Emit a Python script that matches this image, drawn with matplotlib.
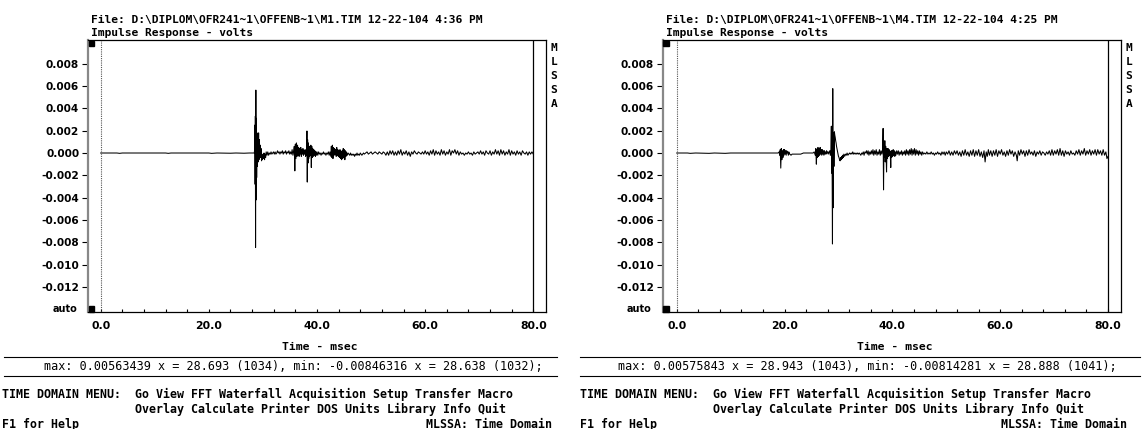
import numpy as np
import matplotlib.pyplot as plt
from matplotlib.patches import Rectangle
from matplotlib.lines import Line2D

W, H = 1143, 429

# traces: (time in msec, value in units of 1e-4 V)
m1_points = [
    (0.0, 0), (3.0, 0), (3.5, -0.3), (4.0, 0), (12.0, 0), (12.5, -0.3), (13.0, 0),
    (20.0, 0), (20.5, -0.3), (21.5, 0), (24.0, -0.2), (25.0, 0), (26.5, -0.2), (27.5, 0),
    (28.4, 0), (28.47, 3), (28.52, 25), (28.56, -28), (28.60, 33), (28.638, -84.6),
    (28.693, 56.3), (28.74, -42), (28.79, 31), (28.84, -22), (28.9, 18), (28.96, -12),
    (29.05, 14), (29.12, -8), (29.2, 18), (29.27, -6), (29.35, 12), (29.42, -3), (29.5, 7),
    (29.58, -4), (29.66, 4), (29.74, -7), (29.82, -1), (29.9, -6), (30.0, -2), (30.1, -5),
    (30.2, 0), (30.3, -6), (30.4, -1), (30.5, -4), (30.6, 1), (30.75, -2), (30.9, 1),
    (31.05, -2), (31.2, 0), (31.35, -1), (31.5, 1), (31.65, -1), (31.8, 0), (31.95, 1),
    (32.1, -1), (32.25, 1), (32.4, -1), (32.55, 0), (32.7, 2), (32.85, 0), (33.0, 1),
    (33.15, -1), (33.3, 1), (33.45, 0), (33.6, 2), (33.75, -1), (33.9, 1), (34.05, 0),
    (34.2, 2), (34.35, -1), (34.5, 1), (34.65, 0), (34.8, 2), (34.95, -1), (35.1, 1),
    (35.25, -1), (35.4, 3), (35.55, -2), (35.7, 2), (35.8, 6), (35.9, -16), (36.0, 8),
    (36.1, -5), (36.2, 9), (36.3, -3), (36.4, 7), (36.5, -2), (36.6, 5), (36.7, -3),
    (36.8, 4), (36.9, -1), (37.0, 5), (37.1, -3), (37.2, 3), (37.3, -1), (37.4, 4),
    (37.5, -2), (37.6, 2), (37.7, -1), (37.8, 3), (37.9, -3), (38.0, 2), (38.08, -2),
    (38.14, 19.7), (38.2, -26), (38.26, 12), (38.33, -9), (38.4, 9), (38.47, -5),
    (38.55, 6), (38.62, -3), (38.7, 5), (38.78, -2), (38.86, 7), (38.95, -13), (39.03, 6),
    (39.12, -4), (39.2, 4), (39.3, -3), (39.4, 3), (39.5, -2), (39.6, 2), (39.7, -3),
    (39.8, 1), (39.9, -2), (40.0, 1), (40.15, -2), (40.3, 1), (40.45, -1), (40.6, 0),
    (40.75, -2), (40.9, 0), (41.05, -1), (41.2, 1), (41.35, -1), (41.5, 0), (41.65, -2),
    (41.8, 0), (41.95, -1), (42.1, 1), (42.25, -2), (42.4, 1), (42.55, -3), (42.65, 6),
    (42.75, -4), (42.85, 7), (42.95, -5), (43.05, 5), (43.15, -2), (43.25, 4), (43.35, -1),
    (43.45, 3), (43.55, -3), (43.65, 5), (43.75, -2), (43.85, 3), (43.95, -3), (44.05, 2),
    (44.15, -4), (44.25, 3), (44.35, -5), (44.45, 1), (44.55, -6), (44.65, 2), (44.75, -5),
    (44.85, 4), (44.95, -4), (45.05, 3), (45.15, -6), (45.25, 2), (45.35, -3), (45.45, 1),
    (45.6, -2), (45.75, 0), (45.9, -1), (46.05, -2), (46.2, 0), (46.35, -2), (46.5, -1),
    (46.65, -2), (46.8, -1), (46.95, -3), (47.1, -1), (47.25, -2), (47.4, 0), (47.55, -2),
    (47.7, -1), (47.85, -2), (48.0, 0), (48.15, -1), (48.3, -2), (48.45, -1), (48.6, 0),
    (48.75, -1), (49.0, 0), (49.25, 1), (49.5, -1), (49.75, 0), (50.0, 1), (50.25, -1),
    (50.5, 0), (50.75, 1), (51.0, 0), (51.25, -1), (51.5, 1), (51.75, 0), (52.0, -1),
    (52.25, 1), (52.5, 0), (52.75, -2), (53.0, 1), (53.25, -2), (53.5, 2), (53.75, -1),
    (54.0, 2), (54.25, -2), (54.5, 1), (54.75, -2), (55.0, 2), (55.25, -1), (55.5, 3),
    (55.75, -2), (56.0, 1), (56.25, -1), (56.5, 2), (56.75, -2), (57.0, 1), (57.25, -3),
    (57.5, 1), (57.75, -1), (58.0, 2), (58.25, 0), (58.5, -1), (58.75, 1), (59.0, 0),
    (59.25, -1), (59.5, 1), (59.75, -1), (60.0, 2), (60.25, -1), (60.5, 1), (60.75, -2),
    (61.0, 2), (61.25, -1), (61.5, 3), (61.75, -2), (62.0, 2), (62.25, -1), (62.5, 1),
    (62.75, -2), (63.0, 3), (63.25, -1), (63.5, 2), (63.75, -2), (64.0, 1), (64.25, -1),
    (64.5, 3), (64.75, -2), (65.0, 2), (65.25, 0), (65.5, 3), (65.75, -1), (66.0, 2),
    (66.25, -2), (66.5, 1), (66.75, -1), (67.0, 0), (67.25, -2), (67.5, 0), (67.75, -1),
    (68.0, 1), (68.25, -1), (68.5, 0), (68.75, -2), (69.0, 1), (69.25, -1), (69.5, 0),
    (69.75, 1), (70.0, -1), (70.25, 2), (70.5, -1), (70.75, 1), (71.0, -2), (71.25, 2),
    (71.5, 0), (71.75, -1), (72.0, 2), (72.25, -2), (72.5, 1), (72.75, -1), (73.0, 3),
    (73.25, -1), (73.5, 2), (73.75, -2), (74.0, 3), (74.25, -1), (74.5, 2), (74.75, -2),
    (75.0, 1), (75.25, -1), (75.5, 3), (75.75, -2), (76.0, 2), (76.25, -1), (76.5, 1),
    (76.75, -2), (77.0, 2), (77.25, -1), (77.5, 1), (77.75, -2), (78.0, 2), (78.25, 0),
    (78.5, -1), (78.75, 1), (79.0, -2), (79.25, 1), (79.5, -1), (79.75, 1), (80.0, -1),
]

m4_points = [
    (0.0, 0), (2.0, 0), (2.5, -0.3), (3.5, 0), (6.0, -0.3), (7.0, 0), (9.0, -0.3), (10.0, 0),
    (14.0, 0), (18.8, 0), (19.0, 1), (19.1, -2), (19.2, 3), (19.3, -13.5), (19.4, 4),
    (19.5, -6), (19.6, 2), (19.7, -4), (19.8, 3), (19.9, -2), (20.0, 3), (20.1, -1),
    (20.2, 2), (20.3, -2), (20.4, 2), (20.5, 0), (20.6, 1), (20.7, -2), (20.8, 1), (20.9, -1),
    (21.0, -1), (21.2, -2), (21.4, -1), (21.6, -1), (22.0, -1), (22.5, -1), (23.0, -1),
    (23.5, 0), (24.5, 0), (25.3, 0), (25.5, 1), (25.7, -2), (25.8, 4), (25.9, -10),
    (26.0, 3), (26.1, -4), (26.2, 5), (26.3, -3), (26.4, 4), (26.5, -2), (26.6, 5),
    (26.7, -1), (26.8, 3), (26.9, -2), (27.0, 3), (27.1, -1), (27.2, 2), (27.3, -2),
    (27.4, 2), (27.5, -1), (27.6, 1), (27.7, -1), (27.8, 2), (27.9, 0), (28.0, 1),
    (28.1, -1), (28.2, 1), (28.3, 0), (28.4, 2), (28.5, -2), (28.6, 3), (28.68, 24),
    (28.74, -18), (28.8, 16), (28.888, -81.4), (28.943, 57.6), (29.0, -49), (29.05, -30),
    (29.1, 18), (29.16, -12), (29.24, 19), (29.32, 16), (29.4, 14), (29.48, 11), (29.56, 9),
    (29.64, 6), (29.72, 4), (29.8, 2), (29.9, 0), (30.0, -3), (30.1, -4), (30.2, -6),
    (30.3, -7), (30.4, -4), (30.5, -6), (30.6, -3), (30.7, -5), (30.8, -2), (30.9, -4),
    (31.0, -1), (31.15, -3), (31.3, -1), (31.45, -2), (31.6, 0), (31.75, -2), (31.9, -1),
    (32.05, 0), (32.2, -1), (32.35, 0), (32.5, -1), (32.65, 1), (32.8, -1), (32.95, 0),
    (33.1, -1), (33.25, 0), (33.4, -1), (33.55, 0), (33.7, -1), (33.85, 0), (34.0, -1),
    (34.15, -2), (34.3, 0), (34.45, -1), (34.6, 1), (34.75, -2), (34.9, 1), (35.05, 0),
    (35.2, 2), (35.35, -1), (35.5, 2), (35.65, -2), (35.8, 1), (35.95, -1), (36.1, 2),
    (36.25, -1), (36.4, 3), (36.55, -2), (36.7, 2), (36.85, -1), (37.0, 3), (37.15, -2),
    (37.3, 1), (37.45, -1), (37.6, 3), (37.75, -2), (37.9, 2), (38.05, -1), (38.2, 3),
    (38.28, 22), (38.36, -33), (38.44, 6), (38.52, -4), (38.6, 11), (38.68, -8), (38.76, 6),
    (38.84, -3), (38.92, -17), (39.0, 4), (39.1, -5), (39.2, 4), (39.3, -3), (39.4, 3),
    (39.5, -2), (39.6, 1), (39.7, -13), (39.78, 2), (39.86, -4), (39.95, 2), (40.05, -3),
    (40.15, 3), (40.25, -2), (40.35, 2), (40.45, -3), (40.55, 1), (40.65, -2), (40.8, 2),
    (40.95, -1), (41.1, 2), (41.25, -2), (41.4, 1), (41.55, -1), (41.7, 2), (41.85, -2),
    (42.0, 1), (42.15, -1), (42.3, 2), (42.45, -2), (42.6, 3), (42.75, -1), (42.9, 2),
    (43.05, -2), (43.2, 3), (43.35, -1), (43.5, 4), (43.65, -2), (43.8, 3), (43.95, -1),
    (44.1, 4), (44.25, -2), (44.4, 3), (44.55, -1), (44.7, 2), (44.85, -2), (45.0, 2),
    (45.15, -1), (45.3, 1), (45.45, -2), (45.6, 1), (45.8, -1), (46.0, 0), (46.2, -1),
    (46.4, 1), (46.6, -1), (46.8, 0), (47.0, -1), (47.2, 1), (47.4, -1), (47.6, 0),
    (47.8, -2), (48.0, 0), (48.2, -1), (48.4, 1), (48.6, -1), (48.8, 0), (49.0, -2),
    (49.2, 1), (49.4, -1), (49.6, 1), (49.8, -2), (50.0, 1), (50.25, -1), (50.5, 2),
    (50.75, -2), (51.0, 1), (51.25, -2), (51.5, 2), (51.75, -1), (52.0, 2), (52.25, -2),
    (52.5, 1), (52.75, -3), (53.0, 2), (53.25, -2), (53.5, 3), (53.75, -2), (54.0, 1),
    (54.25, -3), (54.5, 2), (54.75, -2), (55.0, 3), (55.25, -3), (55.5, 2), (55.75, -2),
    (56.0, 3), (56.25, -3), (56.5, 1), (56.75, -4), (57.0, 2), (57.2, -8), (57.4, 1),
    (57.6, -3), (57.8, 3), (58.0, -2), (58.25, 2), (58.5, -3), (58.75, 2), (59.0, -2),
    (59.25, 3), (59.5, -3), (59.75, 2), (60.0, -1), (60.25, 3), (60.5, -2), (60.75, 1),
    (61.0, -3), (61.25, 2), (61.5, -2), (61.75, 3), (62.0, -1), (62.25, 2), (62.5, -3),
    (62.75, 1), (63.0, -2), (63.15, -7), (63.35, 2), (63.6, -2), (63.85, 3), (64.1, -1),
    (64.35, 2), (64.6, -3), (64.85, 2), (65.1, -2), (65.35, 3), (65.6, -1), (65.85, 1),
    (66.1, -2), (66.35, 2), (66.6, -3), (66.85, 1), (67.1, -1), (67.35, 2), (67.6, -2),
    (67.85, 1), (68.1, 0), (68.35, -2), (68.6, 1), (68.85, -1), (69.1, 2), (69.35, -2),
    (69.6, 3), (69.85, -2), (70.1, 2), (70.35, -1), (70.6, 3), (70.85, -2), (71.1, 4),
    (71.35, -2), (71.6, 2), (71.85, -3), (72.1, 2), (72.35, -1), (72.6, 1), (72.85, -2),
    (73.1, 2), (73.35, -1), (73.6, 0), (73.85, -2), (74.1, 2), (74.35, -1), (74.6, 3),
    (74.85, -2), (75.1, 2), (75.35, -1), (75.6, 4), (75.85, -2), (76.1, 2), (76.35, -1),
    (76.6, 3), (76.85, -2), (77.1, 2), (77.35, -1), (77.6, 3), (77.85, -2), (78.1, 3),
    (78.35, -1), (78.6, 2), (78.85, -2), (79.1, 3), (79.35, -2), (79.6, 1), (79.8, -5),
    (80.0, -3),
]

m1_header = r"File: D:\DIPLOM\OFR241~1\OFFENB~1\M1.TIM 12-22-104 4:36 PM"
m4_header = r"File: D:\DIPLOM\OFR241~1\OFFENB~1\M4.TIM 12-22-104 4:25 PM"
m1_stats = "max: 0.00563439 x = 28.693 (1034), min: -0.00846316 x = 28.638 (1032);"
m4_stats = "max: 0.00575843 x = 28.943 (1043), min: -0.00814281 x = 28.888 (1041);"

y_ticks = [0.008, 0.006, 0.004, 0.002, 0.0, -0.002, -0.004, -0.006, -0.008, -0.010, -0.012]
y_labels = ['0.008', '0.006', '0.004', '0.002', '0.000', '-0.002', '-0.004',
            '-0.006', '-0.008', '-0.010', '-0.012']
x_ticks = [0, 20, 40, 60, 80]
x_labels = ['0.0', '20.0', '40.0', '60.0', '80.0']
x_minor = [4, 8, 12, 16, 24, 28, 32, 36, 44, 48, 52, 56, 64, 68, 72, 76]

MONO = 'DejaVu Sans Mono'
SANS = 'DejaVu Sans'

fig = plt.figure(figsize=(W / 100, H / 100), dpi=100)


def fx(x):
    return x / W


def fy(y):
    return 1 - y / H


def put(x, y, s, **kw):
    kw.setdefault('family', MONO)
    kw.setdefault('va', 'baseline')
    fig.text(fx(x), fy(y), s, **kw)


def screen(ox, points, header, stats, xlim, line_span, menu_x):
    ax = fig.add_axes([fx(ox + 88), fy(312.4), 458 / W, 272.4 / H])
    t, v = np.array(points).T
    ax.plot(t, v * 1e-4, color='black', lw=0.75)
    ax.set_xlim(*xlim)
    ax.set_ylim(-0.01426, 0.01011)
    ax.axvline(0, color='#555555', lw=0.8, ls=(0, (1, 1)))
    ax.axvline(80, color='black', lw=0.9)

    ax.set_yticks(y_ticks, labels=y_labels)
    ax.set_xticks(x_ticks, labels=x_labels)
    ax.set_xticks(x_minor, minor=True)
    ax.tick_params(axis='y', direction='out', length=4.3, width=0.8, pad=2,
                   labelsize=7.6)
    ax.tick_params(axis='x', which='both', direction='in', length=2.5, width=0.8,
                   pad=6.5, labelsize=7.8)
    for lab in ax.get_xticklabels() + ax.get_yticklabels():
        lab.set_fontfamily(SANS)
        lab.set_fontweight('bold')

    ax.spines['left'].set_color('#888888')
    ax.spines['left'].set_linewidth(1.6)
    for side in ['top', 'right', 'bottom']:
        ax.spines[side].set_color('black')
        ax.spines[side].set_linewidth(0.9)

    # small black markers at the axis corners
    for yy in (40.5, 306):
        fig.add_artist(Rectangle((fx(ox + 88.5), fy(yy + 5.5)), 5.5 / W, 5.5 / H,
                                 transform=fig.transFigure, color='black'))
    fig.text(fx(ox + 77), fy(308.5), 'auto', family=SANS, weight='bold',
             fontsize=7, ha='right', va='center')

    put(ox + 91, 22.5, header, fontsize=8.1, weight='bold')
    put(ox + 91, 36.5, 'Impulse Response - volts', fontsize=8.1, weight='bold')
    for i, ch in enumerate('MLSSA'):
        put(ox + 554, 48 + 14 * i, ch, fontsize=8, weight='bold', va='center',
            ha='center')
    put(ox + 320, 350, 'Time - msec', fontsize=8.2, weight='bold', ha='center')

    for yy in (356.5, 375.5):
        fig.add_artist(Line2D([fx(line_span[0]), fx(line_span[1])], [fy(yy), fy(yy)],
                              color='black', lw=0.8))
    put(ox + 293, 370, stats, fontsize=8.5, ha='center')

    put(menu_x, 398, 'TIME DOMAIN MENU:', fontsize=8.4, weight='bold')
    put(menu_x + 133, 398, 'Go View FFT Waterfall Acquisition Setup Transfer Macro',
        fontsize=8.4, weight='bold')
    put(menu_x + 133, 413, 'Overlay Calculate Printer DOS Units Library Info Quit',
        fontsize=8.4, weight='bold')
    put(menu_x, 428, 'F1 for Help', fontsize=8.4, weight='bold')
    put(ox + 552, 428, 'MLSSA: Time Domain', fontsize=8.4, weight='bold', ha='right')
    return ax


screen(0, m1_points, m1_header, m1_stats, (-2.35, 82.35), (4, 557), 2)
screen(574.7, m4_points, m4_header, m4_stats, (-2.6, 82.35), (580, 1140), 580)

fig.savefig('out.png', dpi=100)
